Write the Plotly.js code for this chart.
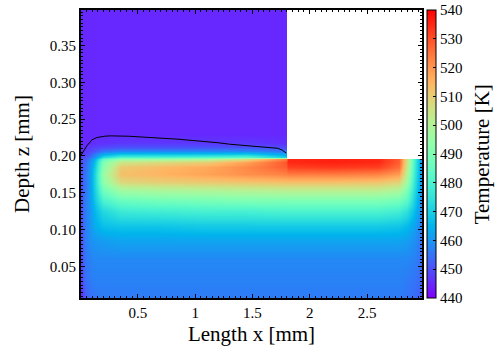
<!DOCTYPE html>
<html>
<head>
<meta charset="utf-8">
<script src="https://cdn.plot.ly/plotly-3.0.1.min.js"></script>
<style>html,body{margin:0;padding:0;background:#fff;}#chart{width:498px;height:347px;}</style>
</head>
<body>
<div id="chart"></div>
<script>
// Grid positions (x in mm: brick centres, z in mm: brick centres)
const xGrid = [0.0, 0.04, 0.08, 0.13, 0.2, 0.35, 0.7, 1.1, 1.45, 1.79, 1.81, 2.2, 2.6, 2.78, 2.85, 2.91, 2.98];
const zGrid = [0.005, 0.03, 0.06, 0.085, 0.105, 0.125, 0.14, 0.155, 0.165, 0.175, 0.185, 0.192, 0.196, 0.199, 0.203, 0.207, 0.212, 0.218, 0.23, 0.4];

// Temperature [K], one array per depth row (bottom to top), columns follow xGrid
const T_z0005 = [444, 451, 454, 455, 456, 456, 456, 456, 456, 456, 456, 456, 456, 456, 455, 454, 451];
const T_z0030 = [448, 454, 456, 457, 457, 457, 457, 457, 457, 457, 457, 457, 457, 457, 456, 455, 453];
const T_z0060 = [449, 455, 457, 458, 458, 458, 458, 458, 458, 458, 458, 458, 458, 458, 458, 457, 454];
const T_z0085 = [450, 456, 459, 460, 461, 462, 462, 462, 462, 462, 462, 462, 462, 462, 461, 459, 455];
const T_z0105 = [450, 456, 460, 464, 467, 468, 468, 469, 469, 469, 469, 469, 469, 468, 466, 462, 456];
const T_z0125 = [450, 456, 460, 466, 472, 477, 478, 479, 479, 480, 480, 480, 480, 478, 474, 467, 457];
const T_z0140 = [450, 456, 461, 469, 480, 486, 488, 489, 490, 490, 490, 490, 490, 488, 483, 471, 457];
const T_z0155 = [450, 455, 461, 471, 488, 498, 500, 501, 502, 503, 503, 503, 503, 500, 490, 474, 458];
const T_z0165 = [450, 455, 461, 472, 493, 508, 510, 511, 512, 513, 513, 513, 512, 509, 496, 476, 458];
const T_z0175 = [450, 455, 461, 472, 495, 513, 515, 518, 521, 523, 524, 524, 523, 519, 500, 478, 458];
const T_z0185 = [450, 454, 460, 470, 492, 511, 514, 517, 522, 528, 532, 533, 532, 526, 503, 479, 458];
const T_z0192 = [450, 453, 459, 468, 490, 504, 507, 510, 518, 529, 535, 536, 535, 528, 505, 480, 458];
const T_z0196 = [449, 452, 457, 465, 484, 495, 496, 499, 507, 524, 535, 536, 535, 528, 505, 480, 458];
const T_z0199 = [448, 450, 454, 460, 472, 480, 480, 481, 482, 470, null, null, null, null, null, null, null];
const T_z0203 = [447, 448, 451, 456, 463, 468, 468, 468, 469, 462, null, null, null, null, null, null, null];
const T_z0207 = [446, 447, 449, 451, 455, 458, 458, 458, 458, 455, null, null, null, null, null, null, null];
const T_z0212 = [445, 446, 447, 448, 449, 450, 450, 450, 450, 449, null, null, null, null, null, null, null];
const T_z0218 = [445, 445, 445, 446, 446, 447, 447, 447, 447, 446, null, null, null, null, null, null, null];
const T_z0230 = [445, 445, 445, 445, 445, 445, 445, 445, 445, 445, null, null, null, null, null, null, null];
const T_z0400 = [445, 445, 445, 445, 445, 445, 445, 445, 445, 445, null, null, null, null, null, null, null];

// Black interface line
const lineX = [0.005, 0.03, 0.055, 0.1, 0.142, 0.21, 0.26, 0.42, 0.85, 1.2, 1.3, 1.55, 1.72, 1.76, 1.795];
const lineZ = [0.2012, 0.207, 0.2137, 0.222, 0.225, 0.2268, 0.2273, 0.2268, 0.2228, 0.218, 0.216, 0.2127, 0.2105, 0.208, 0.204];

const tMin = 440, tMax = 540;
const cbTicks = [440, 450, 460, 470, 480, 490, 500, 510, 520, 530, 540];

const zTable = [T_z0005, T_z0030, T_z0060, T_z0085, T_z0105, T_z0125, T_z0140, T_z0155, T_z0165, T_z0175,
  T_z0185, T_z0192, T_z0196, T_z0199, T_z0203, T_z0207, T_z0212, T_z0218, T_z0230, T_z0400];

// matplotlib "rainbow" colormap
function rainbow(t) {
  const r = Math.min(1, Math.abs(2 * t - 0.5));
  const g = Math.sin(Math.PI * t);
  const b = Math.cos(Math.PI * t / 2);
  const c = v => Math.round(Math.max(0, Math.min(1, v)) * 255);
  return 'rgb(' + c(r) + ',' + c(g) + ',' + c(b) + ')';
}
const colorscale = [];
for (let i = 0; i <= 40; i++) colorscale.push([i / 40, rainbow(i / 40)]);

const font = 'Liberation Serif, Times New Roman, serif';

const heat = {
  type: 'heatmap', x: xGrid, y: zGrid, z: zTable,
  zmin: tMin, zmax: tMax, zsmooth: 'best', colorscale: colorscale,
  hoverinfo: 'skip',
  colorbar: {
    x: 1.0147, xanchor: 'left', xpad: 0, y: 0.5, yanchor: 'middle', ypad: 0,
    len: 1, lenmode: 'fraction', thickness: 9, thicknessmode: 'pixels',
    outlinewidth: 1, outlinecolor: '#000',
    tickvals: cbTicks, ticks: 'inside', ticklen: 3, tickcolor: '#000',
    tickfont: {family: font, size: 15, color: '#000'}
  }
};
const line = {
  type: 'scatter', mode: 'lines', x: lineX, y: lineZ,
  line: {color: '#000', width: 1}, hoverinfo: 'skip', showlegend: false
};

const axBase = {
  showline: true, linecolor: '#000', linewidth: 2, mirror: 'allticks',
  ticks: 'inside', ticklen: 4, tickwidth: 1, tickcolor: '#000',
  showgrid: false, zeroline: false,
  tickfont: {family: font, size: 15, color: '#000'}
};

const layout = {
  width: 498, height: 347,
  margin: {l: 81, r: 76, t: 10, b: 49},
  paper_bgcolor: '#fff', plot_bgcolor: '#fff',
  showlegend: false,
  xaxis: Object.assign({}, axBase, {
    range: [0.004, 2.98], tick0: 0, dtick: 0.5,
    minor: {ticks: 'inside', ticklen: 2, dtick: 0.05, tickcolor: '#000', showgrid: false},
    title: {text: 'Length x [mm]', font: {family: font, size: 21, color: '#000'}, standoff: 6}
  }),
  yaxis: Object.assign({}, axBase, {
    range: [0.0074, 0.398], tick0: 0, dtick: 0.05, tickformat: '.2f',
    minor: {ticks: 'inside', ticklen: 2, dtick: 0.005, tickcolor: '#000', showgrid: false},
    title: {text: 'Depth z [mm]', font: {family: font, size: 21, color: '#000'}, standoff: 14}
  }),
  annotations: [{
    text: 'Temperature [K]', xref: 'paper', yref: 'paper', x: 1.177, y: 0.5,
    xanchor: 'center', yanchor: 'middle', textangle: -90, showarrow: false,
    font: {family: font, size: 21, color: '#000'}
  }]
};

Plotly.newPlot('chart', [heat, line], layout, {staticPlot: true, displayModeBar: false});
</script>
</body>
</html>
